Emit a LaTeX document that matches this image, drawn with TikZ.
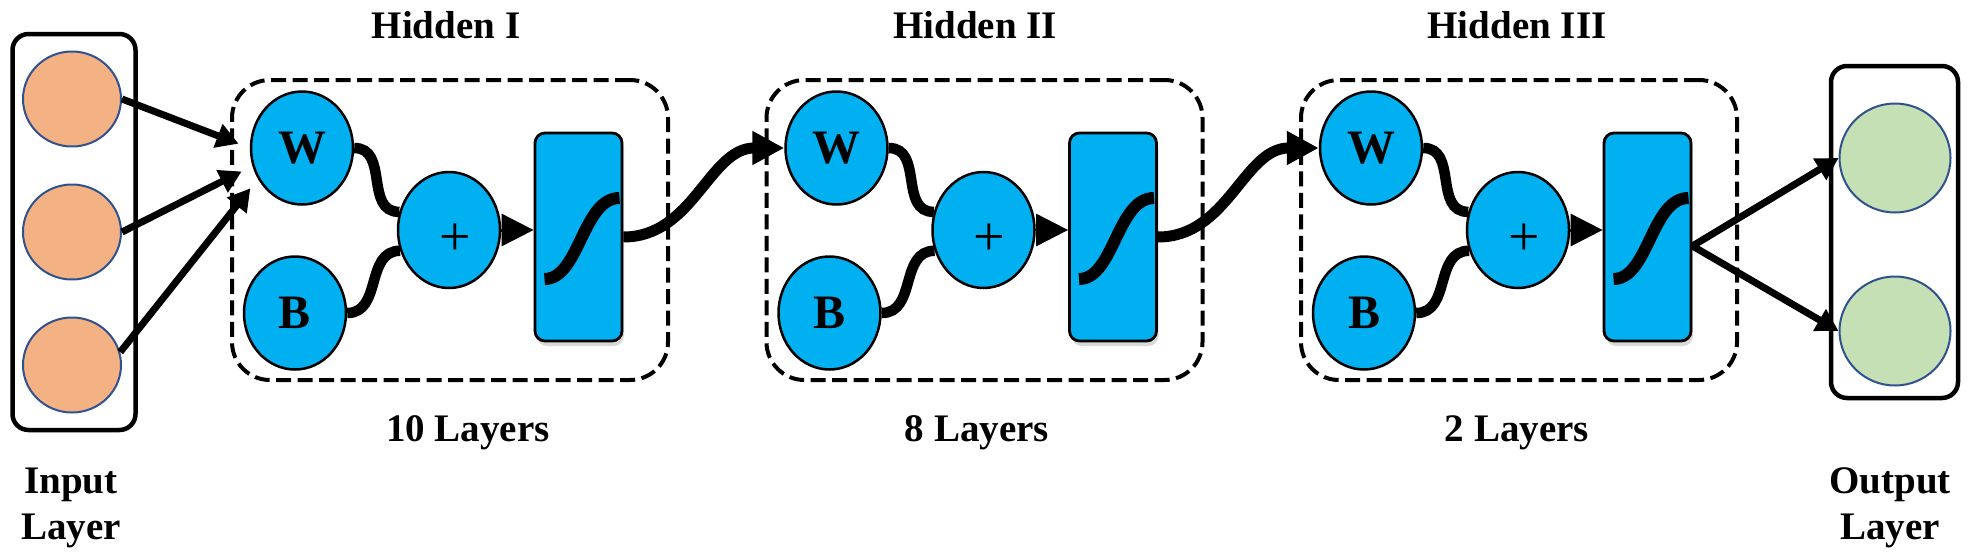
\documentclass[tikz,border=0pt]{standalone}
\usepackage{fontspec}
\setmainfont{Liberation Serif}
\usetikzlibrary{positioning, arrows.meta, shapes.geometric, shadows}

\definecolor{cellblue}{HTML}{00B0F0}
\definecolor{inorange}{HTML}{F4B183}
\definecolor{outgreen}{HTML}{C5E0B4}
\definecolor{rimblue}{HTML}{2F528F}

\tikzset{
  cell/.style={ellipse, draw=black, line width=2.5pt, fill=cellblue, inner sep=0pt,
    minimum width=102pt, minimum height=113pt, font=\fontsize{48}{48}\selectfont\bfseries},
  neuronin/.style={ellipse, draw=rimblue, line width=2pt, fill=inorange, inner sep=0pt,
    minimum width=98pt, minimum height=95pt},
  neuronout/.style={ellipse, draw=rimblue, line width=2pt, fill=outgreen, inner sep=0pt,
    minimum width=111pt, minimum height=109pt},
  actbox/.style={rectangle, rounded corners=10pt, draw=black, line width=2.8pt, fill=cellblue,
    minimum width=87pt, minimum height=208pt, inner sep=0pt,
    drop shadow={shadow xshift=2pt, shadow yshift=-5pt, opacity=0.3, fill=gray}},
  hiddenbox/.style={rectangle, rounded corners=38pt, draw=black, line width=4pt,
    dash pattern=on 15pt off 6.5pt, minimum width=436pt, minimum height=300pt, inner sep=0pt},
  layerframe/.style={rectangle, rounded corners=16pt, draw=black, line width=4.5pt, inner sep=0pt},
  textlabel/.style={font=\fontsize{39}{46.5}\selectfont\bfseries, align=center},
  plussign/.style={font=\fontsize{56}{56}\selectfont},
  wire/.style={line width=10.5pt},
  sigmoidline/.style={line width=12pt},
  sumarrow/.style={-{Triangle[length=32pt, width=32pt]}, line width=3pt},
  blocklink/.style={-{Triangle[length=32pt, width=32pt]}, line width=11pt},
  feedarrow/.style={-{Triangle[length=22pt, width=24pt]}, line width=7pt},
}

\begin{document}
\begin{tikzpicture}[x=1pt, y=-1pt]

\useasboundingbox (0,0) rectangle (1970,552);

% Input layer
\node[layerframe, minimum width=123pt, minimum height=396pt] (inframe) at (74,232) {};
\foreach \k/\y in {1/99, 2/232, 3/365}
  \node[neuronin] (i\k) at (72,\y) {};
\node[textlabel] (inlabel) at (71,508) {Input\\Layer};

% Output layer
\node[layerframe, minimum width=127pt, minimum height=332pt] (outframe) at (1894.5,232) {};
\node[neuronout] (o1) at (1895,158) {};
\node[neuronout] (o2) at (1895,331) {};
\node[textlabel] (outlabel) at (1890,508) {Output\\Layer};

% Hidden blocks
\foreach \i/\hx/\hname/\tx/\nlay/\lx in {1/0/I/446/10/468, 2/534.5/II/975/8/977, 3/1069/III/1517/2/1517} {
  \node[hiddenbox] (h\i) at (450+\hx,230) {};
  \node[textlabel, anchor=base] (t\i) at (\tx,38) {Hidden \hname};
  \node[textlabel, anchor=base] (n\i) at (\lx,441) {\nlay{} Layers};
  \node[cell] (w\i) at (302+\hx,148) {W};
  \node[cell] (b\i) at (295+\hx,313) {B};
  \node[cell, minimum height=116pt, label={[plussign, xshift=6pt, yshift=-10pt]center:+}] (p\i) at (449+\hx,230) {};
  \node[actbox] (s\i) at (578.5+\hx,237) {};
  % sigmoid
  \draw[sigmoidline] ([shift={(-34,42)}]s\i.center) .. controls +(35,0) and +(-37,0) .. ([shift={(41,-39)}]s\i.center);
  % weights and bias into the sum
  \draw[wire] (w\i.east) .. controls +(35,0) and +(-35,0) .. (p\i.160);
  \draw[wire] (b\i.east) .. controls +(35,0) and +(-35,0) .. (p\i.203);
  \draw[sumarrow] (p\i.east) -- (p\i.east -| s\i.west);
}

% Links between blocks
\foreach \i/\j in {1/2, 2/3}
  \draw[blocklink] (s\i.east) .. controls +(70,0) and +(-75,0) .. (w\j.west);

% Input arrows
\foreach \k/\a in {1/west, 2/200, 3/215}
  \draw[feedarrow, shorten >=12pt] (i\k.\ifnum\k=3 15\else east\fi) -- (w1.\a);

% Output arrows
\coordinate (fork) at ([yshift=-9pt]s3.east);
\draw[feedarrow] (fork) -- (o1.west);
\draw[feedarrow] (fork) -- (o2.west);

\end{tikzpicture}
\end{document}
